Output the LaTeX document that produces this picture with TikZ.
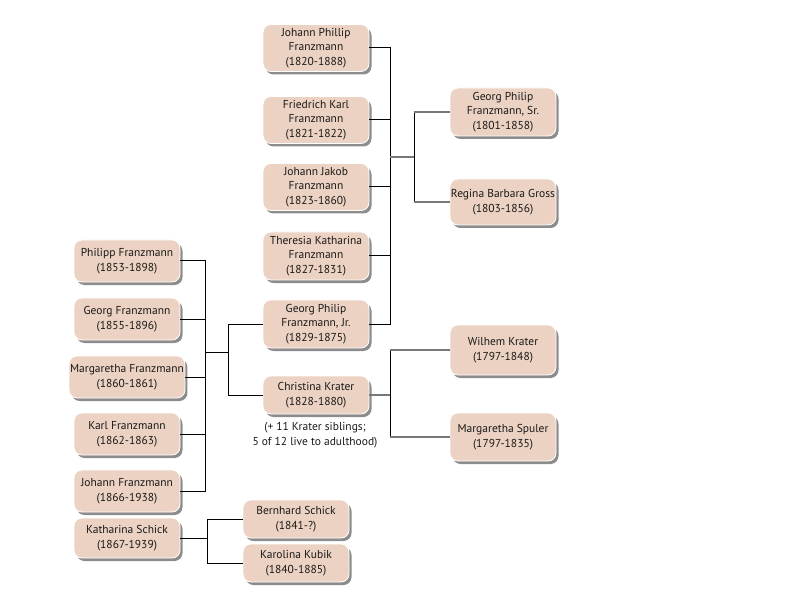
\documentclass[tikz,border=0pt]{standalone}
\usepackage{fontspec}
\setmainfont{PT Sans}
\usetikzlibrary{shadows}
\definecolor{boxfill}{RGB}{236,210,194}
\definecolor{linegray}{RGB}{120,120,120}
\tikzset{
  person/.style={draw=white, line width=0.8pt, fill=boxfill, rounded corners=8pt,
    minimum width=106pt, align=center, inner xsep=1pt, inner ysep=0pt,
    font=\fontsize{11.5}{14.5}\selectfont, text=black!90,
    drop shadow={shadow xshift=2.5pt, shadow yshift=-3pt, opacity=0.6, fill=black!75}},
  conn/.style={line width=1pt, black},
  gconn/.style={line width=1.2pt, linegray},
  note/.style={align=center, font=\fontsize{11.5}{14.5}\selectfont, text=black!90}
}
\begin{document}
\begin{tikzpicture}[x=1pt,y=-1pt]
\useasboundingbox (0,0) rectangle (792,612);
% column 1
\node[person, minimum height=42pt] (philipp) at (127,261) {Philipp Franzmann\\(1853-1898)};
\node[person, minimum height=42pt] (georg) at (127,319) {Georg Franzmann\\(1855-1896)};
\node[person, minimum height=42pt] (margaretha) at (127,377) {Margaretha Franzmann\\(1860-1861)};
\node[person, minimum height=42pt] (karl) at (127,434) {Karl Franzmann\\(1862-1863)};
\node[person, minimum height=42pt] (johann) at (127,491) {Johann Franzmann\\(1866-1938)};
\node[person, minimum height=40pt] (katharina) at (127,538) {Katharina Schick\\(1867-1939)};
% column 2
\node[person, minimum height=47pt] (jphillip) at (316,48) {Johann Phillip\\Franzmann\\(1820-1888)};
\node[person, minimum height=47pt] (friedrich) at (316,120) {Friedrich Karl\\Franzmann\\(1821-1822)};
\node[person, minimum height=47pt] (jjakob) at (316,187) {Johann Jakob\\Franzmann\\(1823-1860)};
\node[person, minimum height=48pt] (theresia) at (316,256) {Theresia Katharina\\Franzmann\\(1827-1831)};
\node[person, minimum height=48pt] (georgjr) at (316,324) {Georg Philip\\Franzmann, Jr.\\(1829-1875)};
\node[person, minimum height=38pt] (christina) at (316,395) {Christina Krater\\(1828-1880)};
\node[note] (siblings) at (315,435) {(+ 11 Krater siblings;\\5 of 12 live to adulthood)};
% column 3
\node[person, minimum height=48pt] (georgsr) at (503,112) {Georg Philip\\Franzmann, Sr.\\(1801-1858)};
\node[person, minimum height=46pt] (regina) at (503,202) {Regina Barbara Gross\\(1803-1856)};
\node[person, minimum height=50pt] (wilhem) at (503,350) {Wilhem Krater\\(1797-1848)};
\node[person, minimum height=48pt] (mspuler) at (503,437) {Margaretha Spuler\\(1797-1835)};
% Schick parents
\node[person, minimum height=38pt] (bernhard) at (296,519) {Bernhard Schick\\(1841-?)};
\node[person, minimum height=38pt] (karolina) at (296,563) {Karolina Kubik\\(1840-1885)};

% children bracket
\coordinate (cb) at (205,352);
\draw[conn] (philipp.east) -- (philipp.east -| cb) -- (johann.east -| cb) -- (johann.east);
\draw[conn] (georg.east) -- (georg.east -| cb);
\draw[conn] (margaretha.east) -- (margaretha.east -| cb);
\draw[conn] (karl.east) -- (karl.east -| cb);
\coordinate (pb) at (228,352);
\draw[conn] (cb) -- (pb);
\draw[conn] (georgjr.west) -- (georgjr.west -| pb) -- (christina.west -| pb) -- (christina.west);

% Franzmann siblings bracket
\coordinate (sb) at (390,157);
\draw[conn] (jphillip.east) -- (jphillip.east -| sb) -- (georgjr.east -| sb) -- (georgjr.east);
\draw[conn] (friedrich.east) -- (friedrich.east -| sb);
\draw[conn] (jjakob.east) -- (jjakob.east -| sb);
\draw[conn] (theresia.east) -- (theresia.east -| sb);
\coordinate (gb) at (414,157);
\draw[gconn] (sb) -- (gb);
\draw[conn] (georgsr.west -| gb) -- (regina.west -| gb);
\draw[gconn] (georgsr.west -| gb) -- (georgsr.west);
\draw[gconn] (regina.west -| gb) -- (regina.west);

% Krater bracket
\coordinate (kb) at (390,395);
\draw[gconn] (christina.east) -- (kb);
\draw[conn] (wilhem.west -| kb) -- (mspuler.west -| kb);
\draw[gconn] (wilhem.west -| kb) -- (wilhem.west);
\draw[gconn] (mspuler.west -| kb) -- (mspuler.west);

% Schick bracket
\coordinate (schb) at (207,538);
\draw[conn] (katharina.east) -- (schb);
\draw[conn] (bernhard.west) -- (bernhard.west -| schb) -- (karolina.west -| schb) -- (karolina.west);
\end{tikzpicture}
\end{document}
